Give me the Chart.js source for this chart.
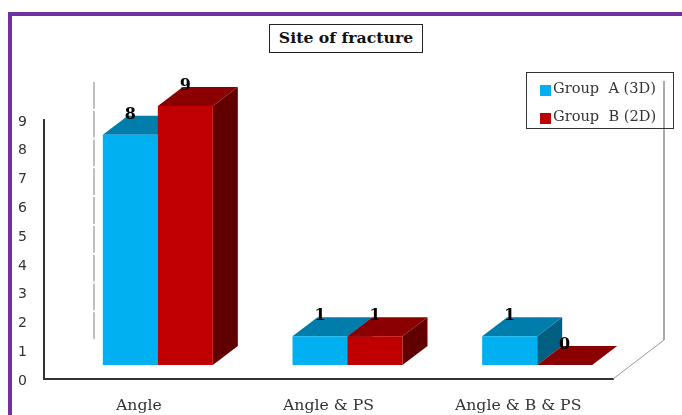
<!DOCTYPE html>
<html>
<head>
<meta charset="utf-8">
<title>Site of fracture</title>
<script src="https://cdn.jsdelivr.net/npm/chart.js@4"></script>
<style>
  html, body { margin: 0; padding: 0; background: #fff; }
  #wrap { position: relative; width: 682px; height: 415px; overflow: hidden; }
  #frame { position: absolute; left: 8px; top: 12px; width: 700px; height: 440px; border: 4px solid #7030a0; }
  canvas { position: absolute; left: 0; top: 0; }
  #title {
    position: absolute; left: 269px; top: 24px; width: 152px; height: 27px;
    border: 1.5px solid #222; text-align: center;
    font: bold 15.7px/26px "DejaVu Serif", serif; color: #111; background: #fff;
  }
  #legend {
    position: absolute; left: 526px; top: 72px; width: 146px; height: 55px;
    border: 1.5px solid #333; font: 14.6px "DejaVu Serif", serif; color: #333;
  }
  #legend div { position: absolute; left: 26px; white-space: pre; line-height: 18px; }
  #legend i { position: absolute; left: -13px; top: 6px; width: 11px; height: 11px; }
</style>
</head>
<body>
<div id="wrap">
  <div id="frame"></div>
  <canvas id="myChart" width="682" height="415"></canvas>
  <div id="title"></div>
  <div id="legend"></div>
</div>
<script>
const chartTitle = "Site of fracture";
const categories = ["Angle", "Angle & PS", "Angle & B & PS"];
const groupA = [8, 1, 1];
const groupB = [9, 1, 0];
const seriesNames = ["Group  A (3D)", "Group  B (2D)"];
const yTicks = [0, 1, 2, 3, 4, 5, 6, 7, 8, 9];

const frontColors = ["#00b0f0", "#c00000"];
const topColors = ["#007dab", "#8b0000"];
const sideColors = ["#005f82", "#600000"];

// title and legend sit on top of the canvas
document.getElementById('title').innerText = chartTitle;
const legendBox = document.getElementById('legend');
seriesNames.forEach((name, i) => {
    const row = document.createElement('div');
    row.style.top = (6 + i * 28) + 'px';
    row.textContent = name;
    const swatch = document.createElement('i');
    swatch.style.background = frontColors[i];
    row.appendChild(swatch);
    legendBox.appendChild(row);
});

// fake 3D: bars sit forward of the axes, with a side and top face added
const shiftX = 19, shiftY = -14, depthX = 25, depthY = -19;
const wallX = 50, wallY = -39;

const walls = {
    id: 'walls',
    beforeDatasetsDraw(chart) {
        const { ctx, chartArea: a, scales: { y } } = chart;
        ctx.save();
        ctx.strokeStyle = '#aaa';
        ctx.lineWidth = 1.5;
        ctx.beginPath();
        // back left edge, broken at every tick
        for (let i = 0; i < yTicks.length - 1; i++) {
            ctx.moveTo(a.left + wallX, y.getPixelForValue(yTicks[i]) + wallY - 1);
            ctx.lineTo(a.left + wallX, y.getPixelForValue(yTicks[i + 1]) + wallY + 1);
        }
        ctx.stroke();
        // back right edge
        ctx.lineWidth = 2;
        ctx.beginPath();
        ctx.moveTo(a.right + wallX + 1, a.top + wallY);
        ctx.lineTo(a.right + wallX + 1, a.bottom + wallY);
        ctx.stroke();
        // floor edge
        ctx.lineWidth = 1;
        ctx.strokeStyle = '#999';
        ctx.beginPath();
        ctx.moveTo(a.right, a.bottom);
        ctx.lineTo(a.right + wallX + 1, a.bottom + wallY);
        ctx.stroke();
        ctx.restore();
    }
};

// draws group A before group B so B's front covers A's side face
const bars3d = {
    id: 'bars3d',
    beforeDatasetsDraw(chart) {
        const ctx = chart.ctx;
        ctx.save();
        ctx.translate(shiftX, shiftY);
        chart.data.datasets.forEach((ds, i) => {
            const meta = chart.getDatasetMeta(i);
            meta.data.forEach(bar => {
                const l = bar.x - bar.width / 2, r = bar.x + bar.width / 2;
                const t = bar.y, b = bar.base;
                ctx.fillStyle = sideColors[i];
                ctx.beginPath();
                ctx.moveTo(r, t);
                ctx.lineTo(r + depthX, t + depthY);
                ctx.lineTo(r + depthX, b + depthY);
                ctx.lineTo(r, b);
                ctx.closePath();
                ctx.fill();
                ctx.fillStyle = topColors[i];
                ctx.beginPath();
                ctx.moveTo(l, t);
                ctx.lineTo(l + depthX, t + depthY);
                ctx.lineTo(r + depthX, t + depthY);
                ctx.lineTo(r, t);
                ctx.closePath();
                ctx.fill();
                bar.draw(ctx);
            });
        });
        ctx.font = 'bold 16px "DejaVu Serif", serif';
        ctx.fillStyle = '#000';
        ctx.textAlign = 'center';
        ctx.textBaseline = 'middle';
        chart.data.datasets.forEach((ds, i) => {
            chart.getDatasetMeta(i).data.forEach((bar, j) => {
                ctx.fillText(ds.data[j], bar.x, bar.y - 20);
            });
        });
        ctx.restore();
        return false;
    }
};

new Chart(document.getElementById('myChart'), {
    type: 'bar',
    data: {
        labels: categories,
        datasets: [
            { label: seriesNames[0], data: groupA, backgroundColor: frontColors[0] },
            { label: seriesNames[1], data: groupB, backgroundColor: frontColors[1] }
        ]
    },
    plugins: [walls, bars3d],
    options: {
        responsive: false,
        animation: false,
        categoryPercentage: 0.58,
        barPercentage: 1,
        layout: { padding: { left: 0, top: 120, right: 69, bottom: 0 } },
        plugins: { legend: { display: false }, title: { display: false }, tooltip: { enabled: false } },
        scales: {
            x: {
                grid: { display: false, drawTicks: false },
                border: { color: '#333', width: 2 },
                ticks: { padding: 18, color: '#333', maxRotation: 0, font: { family: '"DejaVu Serif", serif', size: 15.7 } },
                afterFit(scale) { scale.height = 36; }
            },
            y: {
                min: 0,
                max: 9,
                grid: { display: false, drawTicks: false },
                border: { color: '#333', width: 2 },
                ticks: {
                    stepSize: 1,
                    padding: 17,
                    labelOffset: 2,
                    color: '#333',
                    font: { family: '"DejaVu Sans", sans-serif', size: 14 },
                    callback: (v) => yTicks.includes(v) ? v : ''
                },
                afterFit(scale) { scale.width = 44; }
            }
        }
    }
});
</script>
</body>
</html>
